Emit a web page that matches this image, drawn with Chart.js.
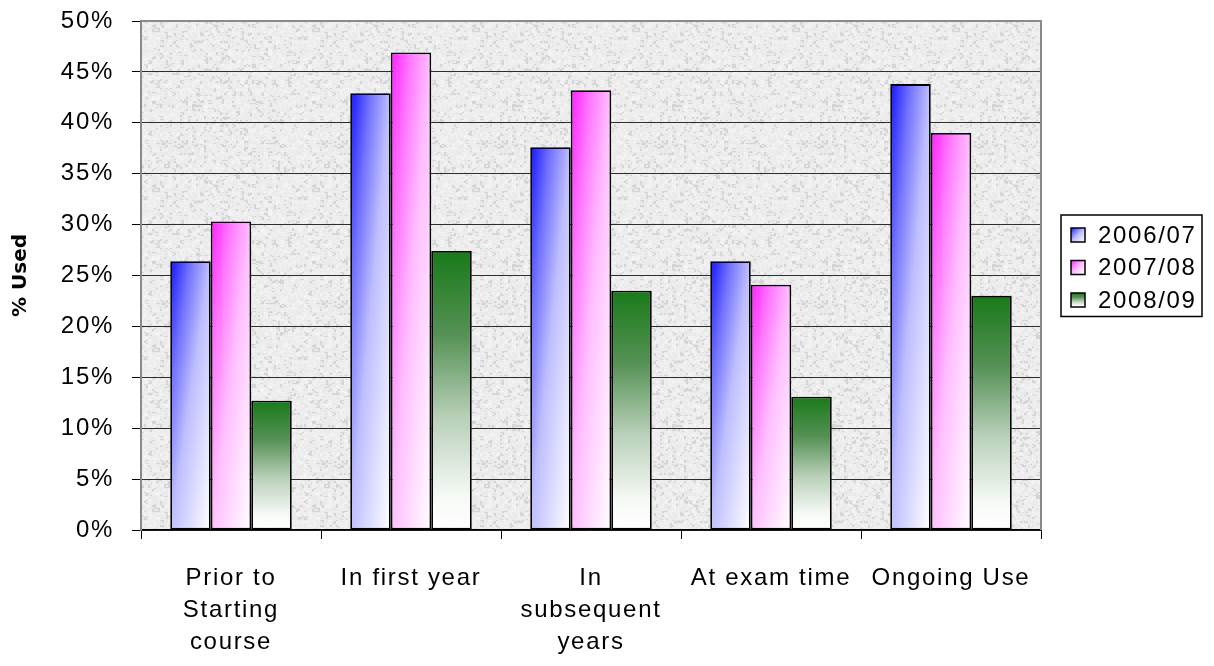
<!DOCTYPE html>
<html>
<head>
<meta charset="utf-8">
<title>% Used by period</title>
<script src="https://cdn.jsdelivr.net/npm/chart.js@4.4.1/dist/chart.umd.min.js"></script>
<style>
  html, body { margin: 0; padding: 0; background: #ffffff; }
  canvas { display: block; }
</style>
</head>
<body>
<canvas id="usage" width="1214" height="666"></canvas>
<script>
// Categories (multi-line labels are arrays) and per-year percentages
const categories = [
  ["Prior to", "Starting", "course"],
  "In first year",
  ["In", "subsequent", "years"],
  "At exam time",
  "Ongoing Use"
];
const seriesNames = ["2006/07", "2007/08", "2008/09"];
const used2006 = [26.4, 42.9, 37.6, 26.4, 43.8];
const used2007 = [30.3, 46.9, 43.2, 24.1, 39.0];
const used2008 = [12.7, 27.4, 23.5, 13.1, 23.0];
const yTickValues = [0, 5, 10, 15, 20, 25, 30, 35, 40, 45, 50];
const yAxisTitle = "% Used";

const CAT_PCT = 0.675;
const BAR_PCT = 1.0;
const FONT_FAMILY = "'Liberation Sans', Arial, sans-serif";
const TEXT_SPACING = '1.7px';

// Gradient stops per series: top-left colour fading to white
const blueStops = [[0, 'rgb(20,20,255)'], [0.25, 'rgb(115,115,255)'], [0.5, 'rgb(190,190,255)'], [1, 'rgb(255,255,255)']];
const pinkStops = [[0, 'rgb(255,30,255)'], [0.25, 'rgb(255,120,255)'], [0.5, 'rgb(255,190,255)'], [1, 'rgb(255,255,255)']];
const greenStops = [[0, 'rgb(25,122,25)'], [0.3, 'rgb(85,145,85)'], [0.6, 'rgb(185,208,185)'], [0.88, 'rgb(246,250,246)'], [1, 'rgb(255,255,255)']];

function diagonalGradient(g, r, stops) {
  // colour depends on (u + v) / 2 in the box's own unit square
  const s = 2 * r.w * r.h / (r.w * r.w + r.h * r.h);
  const grad = g.createLinearGradient(r.left, r.top, r.left + s * r.h, r.top + s * r.w);
  stops.forEach(([o, c]) => grad.addColorStop(o, c));
  return grad;
}
function verticalGradient(g, r, stops) {
  const grad = g.createLinearGradient(0, r.top, 0, r.top + r.h);
  stops.forEach(([o, c]) => grad.addColorStop(o, c));
  return grad;
}

// Rectangle of one bar, from the chart's own scales
function barRect(c) {
  const chart = c.chart;
  const xs = chart.scales.x, ys = chart.scales.y;
  const n = chart.data.labels.length, m = chart.data.datasets.length;
  const catW = (xs.right - xs.left) / n;
  const groupW = catW * CAT_PCT;
  const slot = groupW / m;
  const cx = xs.getPixelForValue(c.dataIndex);
  const left = cx - groupW / 2 + slot * c.datasetIndex + slot * (1 - BAR_PCT) / 2;
  const top = ys.getPixelForValue(c.raw);
  const bottom = ys.getPixelForValue(0);
  return { left, top, w: slot * BAR_PCT, h: Math.max(1, bottom - top) };
}

function barFill(kind, stops, fallback) {
  return (c) => {
    if (c.type !== 'data' || !c.chart.chartArea) return fallback;
    const r = barRect(c);
    return kind === 'diag' ? diagonalGradient(c.chart.ctx, r, stops) : verticalGradient(c.chart.ctx, r, stops);
  };
}

// Speckled light-grey fill for the plot area
function makeGranite() {
  const size = 160;
  const cv = document.createElement('canvas');
  cv.width = size; cv.height = size;
  const g = cv.getContext('2d');
  const img = g.createImageData(size, size);
  const hash = (x, y) => {
    let h = (x * 374761393 + y * 668265263) >>> 0;
    h = ((h ^ (h >>> 13)) * 1274126177) >>> 0;
    return ((h ^ (h >>> 16)) >>> 0) / 4294967295;
  };
  const cell = (x, y, k) => hash(Math.floor(x / k) % Math.ceil(size / k), Math.floor(y / k) % Math.ceil(size / k) + k * 1000);
  for (let y = 0; y < size; y++) {
    for (let x = 0; x < size; x++) {
      const a = cell(x, y, 4), b = cell(x + 2, y + 1, 2), d = hash(x, y);
      let v = 248 - a * 10 - b * 8 - d * 6;
      if (a * b > 0.55) v -= 16;
      const i = (y * size + x) * 4;
      img.data[i] = v; img.data[i + 1] = v; img.data[i + 2] = v; img.data[i + 3] = 255;
    }
  }
  g.putImageData(img, 0, 0);
  return cv;
}
const granite = makeGranite();

const textSpacing = {
  id: 'textSpacing',
  beforeUpdate(chart) { chart.ctx.letterSpacing = TEXT_SPACING; },
  beforeDraw(chart) { chart.ctx.letterSpacing = TEXT_SPACING; }
};

const plotBackground = {
  id: 'plotBackground',
  beforeDraw(chart) {
    const { ctx, chartArea: a } = chart;
    ctx.save();
    ctx.fillStyle = ctx.createPattern(granite, 'repeat');
    ctx.fillRect(a.left, a.top, a.right - a.left, a.bottom - a.top);
    ctx.restore();
  },
  afterDatasetsDraw(chart) {
    const { ctx, chartArea: a } = chart;
    ctx.save();
    ctx.strokeStyle = '#8a8a8a';
    ctx.lineWidth = 2;
    ctx.beginPath();
    ctx.moveTo(a.left, a.bottom);
    ctx.lineTo(a.left, a.top);
    ctx.lineTo(a.right, a.top);
    ctx.lineTo(a.right, a.bottom);
    ctx.stroke();
    ctx.restore();
  }
};

// Rotated bold axis title, centred on the plot height
const axisTitle = {
  id: 'axisTitle',
  afterDraw(chart) {
    const { ctx, chartArea: a } = chart;
    ctx.save();
    ctx.letterSpacing = '0px';
    ctx.translate(21, (a.top + a.bottom) / 2);
    ctx.rotate(-Math.PI / 2);
    ctx.font = "bold 20px 'DejaVu Sans', Verdana, sans-serif";
    ctx.fillStyle = '#000000';
    ctx.textAlign = 'center';
    ctx.textBaseline = 'middle';
    ctx.fillText(yAxisTitle, 0, 0);
    ctx.restore();
  }
};

// Boxed legend to the right of the plot
const boxedLegend = {
  id: 'boxedLegend',
  afterDraw(chart) {
    const ctx = chart.ctx;
    const a = chart.chartArea;
    const boxLeft = a.right + 20, boxTop = 215, boxW = 141, rowH = 32.5;
    const rows = chart.data.datasets.length;
    const boxH = rows * rowH + 4;
    ctx.save();
    ctx.letterSpacing = TEXT_SPACING;
    ctx.fillStyle = '#ffffff';
    ctx.fillRect(boxLeft, boxTop, boxW, boxH);
    ctx.strokeStyle = '#000000';
    ctx.lineWidth = 1.5;
    ctx.strokeRect(boxLeft, boxTop, boxW, boxH);
    ctx.font = `24px ${FONT_FAMILY}`;
    ctx.textBaseline = 'middle';
    ctx.textAlign = 'left';
    chart.data.datasets.forEach((ds, i) => {
      const cy = boxTop + 20 + i * rowH;
      const r = { left: boxLeft + 10, top: cy - 7, w: 14, h: 14 };
      ctx.fillStyle = ds.legendKind === 'diag'
        ? diagonalGradient(ctx, r, ds.legendStops)
        : verticalGradient(ctx, r, ds.legendStops);
      ctx.fillRect(r.left, r.top, r.w, r.h);
      ctx.lineWidth = 1.5;
      ctx.strokeStyle = '#000000';
      ctx.strokeRect(r.left, r.top, r.w, r.h);
      ctx.fillStyle = '#000000';
      ctx.fillText(ds.label, boxLeft + 37, cy + 1);
    });
    ctx.restore();
  }
};

const datasets = [
  { label: seriesNames[0], data: used2006, backgroundColor: barFill('diag', blueStops, '#8080ff'), legendKind: 'diag', legendStops: blueStops },
  { label: seriesNames[1], data: used2007, backgroundColor: barFill('diag', pinkStops, '#ff80ff'), legendKind: 'diag', legendStops: pinkStops },
  { label: seriesNames[2], data: used2008, backgroundColor: barFill('vert', greenStops, '#80b080'), legendKind: 'vert', legendStops: greenStops }
].map(d => Object.assign(d, {
  borderColor: '#000000',
  borderWidth: 1.8,
  borderSkipped: false,
  categoryPercentage: CAT_PCT,
  barPercentage: BAR_PCT
}));

new Chart(document.getElementById('usage'), {
  type: 'bar',
  data: { labels: categories, datasets },
  plugins: [textSpacing, plotBackground, axisTitle, boxedLegend],
  options: {
    responsive: false,
    animation: false,
    devicePixelRatio: 1,
    layout: { padding: { top: 21, right: 173, bottom: 0, left: 0 } },
    plugins: { legend: { display: false }, tooltip: { enabled: false } },
    scales: {
      x: {
        offset: true,
        afterFit(scale) {
          scale.height = 136;
          scale.paddingLeft = 0;
          scale.paddingRight = 0;
        },
        grid: { display: true, offset: true, drawOnChartArea: false, drawTicks: true, tickLength: 9, color: '#000000', lineWidth: 1 },
        border: { display: true, color: '#000000', width: 1.5 },
        ticks: {
          color: '#000000',
          padding: 23,
          maxRotation: 0,
          autoSkip: false,
          font: { family: FONT_FAMILY, size: 24, lineHeight: '32px' }
        }
      },
      y: {
        min: 0,
        max: 50,
        afterFit(scale) {
          scale.width = 141;
          scale.paddingTop = 0;
          scale.paddingBottom = 0;
        },
        afterBuildTicks(scale) { scale.ticks = yTickValues.map(v => ({ value: v })); },
        grid: { color: '#2e2e2e', lineWidth: 1, drawTicks: true, tickLength: 9, tickColor: '#000000' },
        border: { display: true, color: '#7a7a7a', width: 2 },
        ticks: {
          color: '#000000',
          padding: 18,
          font: { family: FONT_FAMILY, size: 24 },
          callback: (v) => v + '%'
        },
        title: { display: false }
      }
    }
  }
});
</script>
</body>
</html>
